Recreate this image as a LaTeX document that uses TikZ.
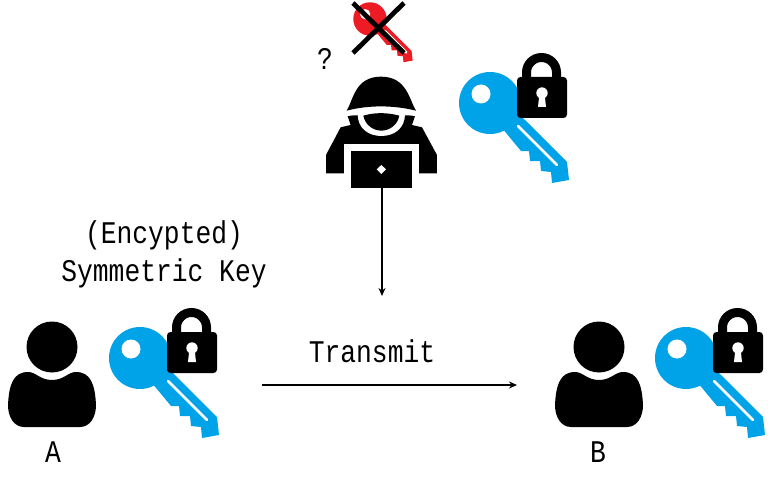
\documentclass[tikz,border=0pt]{standalone}
\usepackage{fontspec}
\setmainfont[FakeStretch=0.835]{Liberation Mono}
\usetikzlibrary{arrows.meta}
\definecolor{keyblue}{HTML}{00A2E8}
\definecolor{keyred}{HTML}{ED1C24}
\tikzset{
  x=1pt,y=-1pt,
  label text/.style={font=\fontsize{31.5}{36}\selectfont,inner sep=0pt,text=black},
  flow/.style={line width=1.4pt,-{Stealth[length=8pt,width=7pt]}},
  keyshape/.pic={
    \fill[pic actions] (0,0) circle (31);
    \fill[pic actions] (22,5) -- (35,17) -- (77,59) -- (79,77) -- (62,80) -- (61,69) -- (51,68) -- (50,58) -- (40,58) -- (39,48) -- (31,48) -- (12,25) -- cycle;
    \fill[white] (-9,-9) circle (9.5);
    \draw[white,line width=2.6pt,line cap=round] (28,23) -- (67,62);
  },
  lockshape/.pic={
    \draw[black,line width=9pt] (36.5,-25) -- (36.5,-30.5) arc[start angle=-180,end angle=0,radius=15] -- (66.5,-25);
    \fill[black,rounded corners=3.5pt] (27,-26) rectangle (77,15);
    \fill[white] (52,-10) circle (5.7);
    \fill[white] (49.5,-10) -- (54.5,-10) -- (56,4) -- (48,4) -- cycle;
  },
  lockedkey/.pic={
    \pic[fill=keyblue] {keyshape};
    \pic {lockshape};
  },
  personshape/.pic={
    \fill[black] (0,0) circle (25.5);
    \fill[black] (-44,58)
      .. controls (-43,38) and (-39,25) .. (-24,25)
      .. controls (-16,25) and (-12,33) .. (0,33)
      .. controls (12,33) and (16,25) .. (24,25)
      .. controls (39,25) and (43,38) .. (44,58)
      .. controls (44,70) and (38,80) .. (28,80)
      -- (-28,80) .. controls (-38,80) and (-44,70) .. (-44,58) -- cycle;
  }
}
\begin{document}
\begin{tikzpicture}
\useasboundingbox (0,0) rectangle (772,487);
% people
\pic at (52,347) {personshape};
\pic at (599,347) {personshape};
% keys
\pic at (140,358) {lockedkey};
\pic at (686,358) {lockedkey};
\pic at (490,103) {lockedkey};
% red key with cross
\pic[fill=keyred,scale=0.54] at (370,19) {keyshape};
\draw[black,line width=4.8pt] (353,3) -- (404,53);
\draw[black,line width=4.8pt] (404,3) -- (353,53);
% hacker
\begin{scope}[shift={(310,0)},x=0.3333pt,y=-0.3333pt]
  \fill[black] (48,520) -- (48,465) -- (92,382) -- (122,375) -- (112,346) -- (316,346) -- (306,375) -- (336,382) -- (381,465) -- (381,520) -- cycle;
  \fill[white] (105,335) .. controls (170,318) and (260,318) .. (322,335) -- (322,350) .. controls (260,335) and (170,335) .. (105,350) -- cycle;
  \fill[black] (110,332) .. controls (130,300) and (135,230) .. (213,230) .. controls (291,230) and (298,300) .. (318,332) .. controls (250,315) and (175,315) .. (110,332) -- cycle;
  \fill[white] (143,342) .. controls (143,385) and (175,408) .. (214,408) .. controls (253,408) and (285,385) .. (285,342) .. controls (240,334) and (190,334) .. (143,342) -- cycle;
  \fill[black] (160,347) .. controls (165,375) and (190,392) .. (214,392) .. controls (238,392) and (263,375) .. (268,347) .. controls (230,337) and (195,337) .. (160,347) -- cycle;
  \fill[white] (103,432) rectangle (327,530);
  \fill[black] (122,452) rectangle (307,563);
  \fill[white] (214,495) -- (228,508) -- (214,522) -- (200,508) -- cycle;
\end{scope}
% connectors
\coordinate (laptop) at (382,187);
\coordinate (probe) at (382,296);
\coordinate (sender) at (262,385);
\coordinate (receiver) at (517,385);
\draw[flow] (laptop) -- (probe);
\draw[flow] (sender) -- (receiver);
% labels
\node[label text] (q) at (325,59) {?};
\node[label text] (enc) at (164,235) {(Encypted)};
\node[label text] (sym) at (164,273) {Symmetric Key};
\node[label text] (tr) at (372,351) {Transmit};
\node[label text] (a) at (53,452) {A};
\node[label text] (b) at (598,452) {B};
\end{tikzpicture}
\end{document}
